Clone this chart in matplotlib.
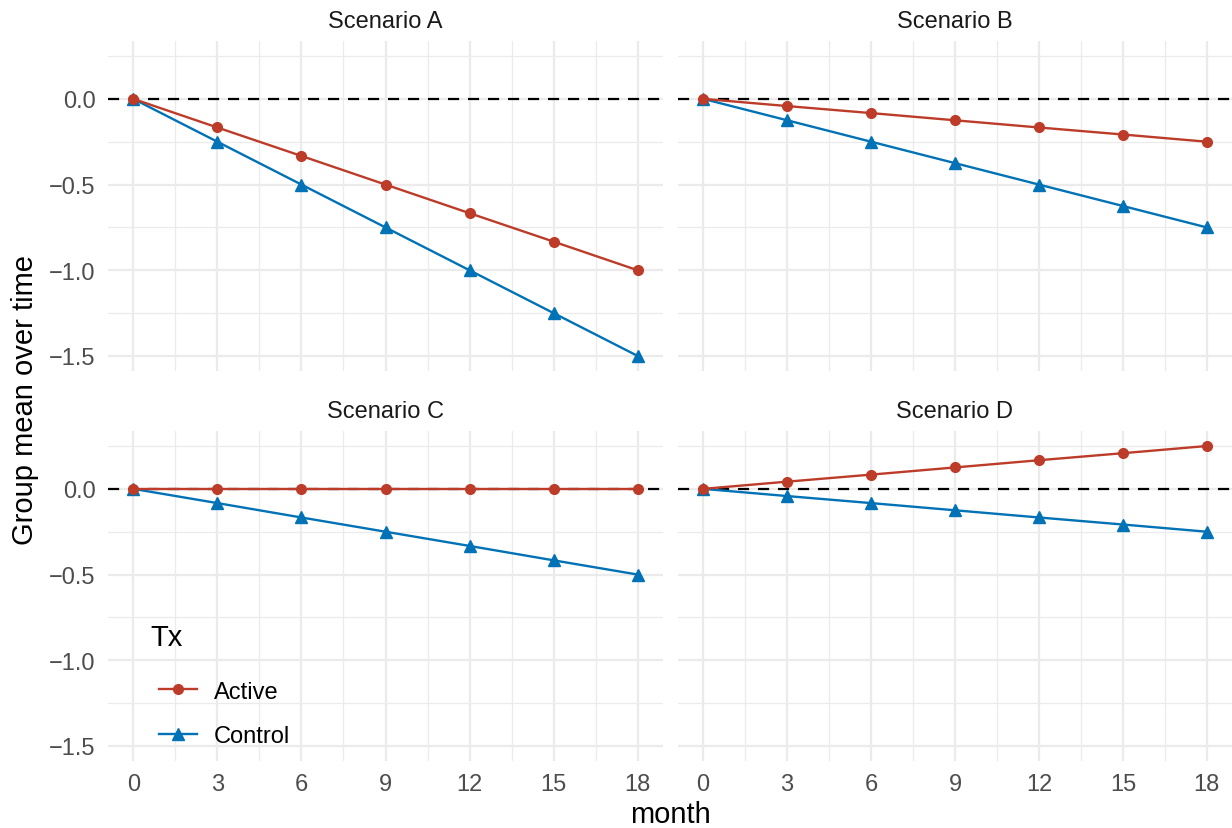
import numpy as np
import matplotlib
matplotlib.use("Agg")
import matplotlib.pyplot as plt
from matplotlib.ticker import MultipleLocator

plt.rcParams['font.family'] = ['Liberation Sans', 'DejaVu Sans']

# data
month = [0, 3, 6, 9, 12, 15, 18]
scenarios = ["Scenario A", "Scenario B", "Scenario C", "Scenario D"]
active = {
    "Scenario A": [0.0, -0.167, -0.333, -0.5, -0.667, -0.833, -1.0],
    "Scenario B": [0.0, -0.042, -0.083, -0.125, -0.167, -0.208, -0.25],
    "Scenario C": [0.0, 0.0, 0.0, 0.0, 0.0, 0.0, 0.0],
    "Scenario D": [0.0, 0.042, 0.083, 0.125, 0.167, 0.208, 0.25],
}
control = {
    "Scenario A": [0.0, -0.25, -0.5, -0.75, -1.0, -1.25, -1.5],
    "Scenario B": [0.0, -0.125, -0.25, -0.375, -0.5, -0.625, -0.75],
    "Scenario C": [0.0, -0.083, -0.167, -0.25, -0.333, -0.417, -0.5],
    "Scenario D": [0.0, -0.042, -0.083, -0.125, -0.167, -0.208, -0.25],
}
y_ticks = [-1.5, -1.0, -0.5, 0.0]

RED = "#BC3C29"
BLUE = "#0072B5"
GRID = "#EBEBEB"

W, H = 1232, 829
fig = plt.figure(figsize=(W / 100, H / 100), dpi=100)

# panel boxes in pixels (left, top, right, bottom)
boxes = [(108, 42, 663, 372), (678, 42, 1232, 372),
         (108, 432, 663, 762), (678, 432, 1232, 762)]

axes = []
for i, (sc, (l, t, r, b)) in enumerate(zip(scenarios, boxes)):
    ax = fig.add_axes([l / W, 1 - b / H, (r - l) / W, (b - t) / H])
    ax.set_xlim(-0.9, 18.9)
    ax.set_ylim(-1.5875, 0.3375)
    ax.xaxis.set_major_locator(MultipleLocator(3))
    ax.xaxis.set_minor_locator(MultipleLocator(1.5))
    ax.set_yticks(y_ticks)
    ax.yaxis.set_minor_locator(MultipleLocator(0.25))
    ax.grid(True, which="major", color=GRID, lw=1.6)
    ax.grid(True, which="minor", color=GRID, lw=0.9)
    ax.set_axisbelow(True)
    for s in ax.spines.values():
        s.set_visible(False)
    ax.tick_params(which="both", length=0, labelsize=17, labelcolor="#4D4D4D", pad=9)
    if i % 2 == 1:
        ax.tick_params(labelleft=False)
    else:
        ax.set_yticklabels([f"{v:.1f}".replace("-", "\u2212") for v in y_ticks])
    if i < 2:
        ax.tick_params(labelbottom=False)

    ax.axhline(0, color="black", lw=1.6, ls=(0, (5, 4)), zorder=1)
    ax.plot(month, active[sc], color=RED, lw=1.7, marker="o", ms=7, label="Active", zorder=3)
    ax.plot(month, control[sc], color=BLUE, lw=1.7, marker="^", ms=8, label="Control", zorder=2)
    ax.set_title(sc, fontsize=17, color="#1A1A1A", pad=10)
    axes.append(ax)

fig.text(670 / W, 1 - 815 / H, "month", fontsize=21, ha="center", va="center")
fig.text(25 / W, 1 - 400 / H, "Group mean over time", fontsize=21, ha="center",
         va="center", rotation=90)

leg = axes[2].legend(loc="upper left", bbox_to_anchor=(138 / W, 1 - 610 / H),
                     bbox_transform=fig.transFigure, frameon=False, title="Tx",
                     fontsize=17, title_fontsize=21, alignment="left",
                     handlelength=1.6, handletextpad=0.7, labelspacing=0.95)
# nudge the title a bit left and up, like the ggplot layout
leg.get_title().set_position((-9, 7))

fig.savefig("out.png", dpi=100)
